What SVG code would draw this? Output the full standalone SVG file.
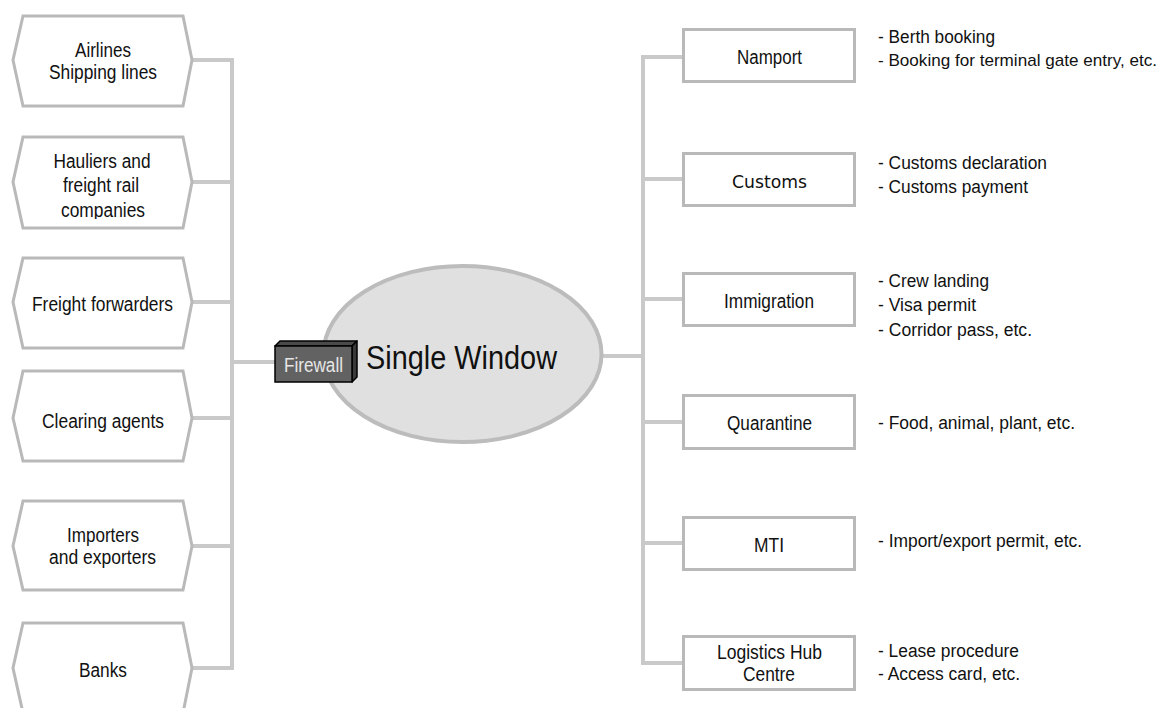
<svg xmlns="http://www.w3.org/2000/svg" width="1165" height="708" viewBox="0 0 1165 708">
  <defs>
    <style>
      .bus { stroke: #c9c9c9; stroke-width: 4; fill: none; }
      .hex { fill: #ffffff; stroke: #b9b9b9; stroke-width: 3; }
      .box { fill: #ffffff; stroke: #b9b9b9; stroke-width: 3; }
      .lbl { font-family: "Liberation Sans", Arial, sans-serif; font-size: 20px; fill: #111111; text-anchor: middle; }
      .note { font-family: "Liberation Sans", Arial, sans-serif; font-size: 18px; fill: #111111; }
      .note.long { font-size: 17px; }
      .alt { font-family: "DejaVu Sans", "Liberation Sans", sans-serif; font-size: 17px; fill: #111111; text-anchor: middle; }
      .hub { font-family: "Liberation Sans", Arial, sans-serif; font-size: 33px; fill: #111111; }
      .fw { font-family: "Liberation Sans", Arial, sans-serif; font-size: 20px; fill: #e6e6e6; }
    </style>
    <clipPath id="clipHauliers">
      <rect x="0" y="130" width="240" height="89"/>
    </clipPath>
  </defs>

  <!-- connectors -->
  <g id="connectors">
    <!-- left bus and stubs -->
    <line class="bus" x1="232" y1="60" x2="232" y2="668"/>
    <line class="bus" x1="192" y1="60" x2="234" y2="60"/>
    <line class="bus" x1="192" y1="182" x2="234" y2="182"/>
    <line class="bus" x1="192" y1="302" x2="234" y2="302"/>
    <line class="bus" x1="192" y1="418" x2="234" y2="418"/>
    <line class="bus" x1="192" y1="546" x2="234" y2="546"/>
    <line class="bus" x1="192" y1="668" x2="234" y2="668"/>
    <line class="bus" x1="232" y1="362" x2="276" y2="362"/>
    <!-- right bus and stubs -->
    <line class="bus" x1="643" y1="57" x2="643" y2="663"/>
    <line class="bus" x1="641" y1="57" x2="683" y2="57"/>
    <line class="bus" x1="641" y1="179" x2="683" y2="179"/>
    <line class="bus" x1="641" y1="299" x2="683" y2="299"/>
    <line class="bus" x1="602" y1="356" x2="645" y2="356"/>
    <line class="bus" x1="641" y1="422" x2="683" y2="422"/>
    <line class="bus" x1="641" y1="543" x2="683" y2="543"/>
    <line class="bus" x1="641" y1="663" x2="683" y2="663"/>
  </g>

  <!-- left-hand parties -->
  <g id="airlines">
    <polygon class="hex" points="23,16 183,16 192,60 183,106 23,106 13,60"/>
    <text class="lbl" x="103" y="57" textLength="56" lengthAdjust="spacingAndGlyphs">Airlines</text>
    <text class="lbl" x="103" y="79" textLength="108" lengthAdjust="spacingAndGlyphs">Shipping lines</text>
  </g>
  <g id="hauliers">
    <polygon class="hex" points="23,137 183,137 192,182 183,228 23,228 13,182"/>
    <g clip-path="url(#clipHauliers)">
      <text class="lbl" x="102" y="168" textLength="97" lengthAdjust="spacingAndGlyphs">Hauliers and</text>
      <text class="lbl" x="101" y="192" textLength="76" lengthAdjust="spacingAndGlyphs">freight rail</text>
      <text class="lbl" x="103" y="217" textLength="84" lengthAdjust="spacingAndGlyphs">companies</text>
    </g>
  </g>
  <g id="freight-forwarders">
    <polygon class="hex" points="23,258 183,258 192,302 183,348 23,348 13,302"/>
    <text class="lbl" x="102.5" y="311" textLength="141" lengthAdjust="spacingAndGlyphs">Freight forwarders</text>
  </g>
  <g id="clearing-agents">
    <polygon class="hex" points="23,371 183,371 192,418 183,461 23,461 13,418"/>
    <text class="lbl" x="103" y="428" textLength="122" lengthAdjust="spacingAndGlyphs">Clearing agents</text>
  </g>
  <g id="importers">
    <polygon class="hex" points="23,501 183,501 192,546 183,590 23,590 13,546"/>
    <text class="lbl" x="103" y="542" textLength="72" lengthAdjust="spacingAndGlyphs">Importers</text>
    <text class="lbl" x="102.5" y="564" textLength="107" lengthAdjust="spacingAndGlyphs">and exporters</text>
  </g>
  <g id="banks">
    <polygon class="hex" points="23,623 183,623 192,668 183,713 23,713 13,668"/>
    <text class="lbl" x="103" y="677" textLength="48" lengthAdjust="spacingAndGlyphs">Banks</text>
  </g>

  <!-- central hub -->
  <g id="single-window">
    <ellipse cx="462.5" cy="354" rx="139" ry="88" fill="#e0e0e0" stroke="#bcbcbc" stroke-width="4"/>
    <text class="hub" x="366" y="369" textLength="191" lengthAdjust="spacingAndGlyphs">Single Window</text>
  </g>

  <g id="firewall">
    <polygon points="275,346 280,341 357,341 352,346" fill="#4a4a4a" stroke="#000000" stroke-width="1.5" stroke-linejoin="round"/>
    <polygon points="352,346 357,341 357,377 352,382" fill="#3a3a3a" stroke="#000000" stroke-width="1.5" stroke-linejoin="round"/>
    <rect x="275" y="346" width="77" height="36" fill="#626262" stroke="#000000" stroke-width="1.5"/>
    <text class="fw" x="284" y="372" textLength="59" lengthAdjust="spacingAndGlyphs">Firewall</text>
  </g>

  <!-- right-hand agencies -->
  <g id="namport">
    <rect class="box" x="683.5" y="29.5" width="171" height="52"/>
    <text class="lbl" x="769.5" y="64" textLength="65" lengthAdjust="spacingAndGlyphs">Namport</text>
    <text class="note" x="878" y="43" textLength="117" lengthAdjust="spacingAndGlyphs">- Berth booking</text>
    <text class="note long" x="878" y="66" textLength="279" lengthAdjust="spacingAndGlyphs">- Booking for terminal gate entry, etc.</text>
  </g>
  <g id="customs">
    <rect class="box" x="683.5" y="153.5" width="171" height="52"/>
    <text class="alt" x="769.5" y="188" textLength="75" lengthAdjust="spacingAndGlyphs">Customs</text>
    <text class="note" x="878" y="169" textLength="169" lengthAdjust="spacingAndGlyphs">- Customs declaration</text>
    <text class="note" x="878" y="193" textLength="150" lengthAdjust="spacingAndGlyphs">- Customs payment</text>
  </g>
  <g id="immigration">
    <rect class="box" x="683.5" y="273.5" width="171" height="52"/>
    <text class="lbl" x="769" y="308" textLength="90" lengthAdjust="spacingAndGlyphs">Immigration</text>
    <text class="note" x="878" y="287" textLength="111" lengthAdjust="spacingAndGlyphs">- Crew landing</text>
    <text class="note" x="878" y="311" textLength="98" lengthAdjust="spacingAndGlyphs">- Visa permit</text>
    <text class="note" x="878" y="336" textLength="154" lengthAdjust="spacingAndGlyphs">- Corridor pass, etc.</text>
  </g>
  <g id="quarantine">
    <rect class="box" x="683.5" y="395.5" width="171" height="53"/>
    <text class="lbl" x="769.5" y="430" textLength="85" lengthAdjust="spacingAndGlyphs">Quarantine</text>
    <text class="note" x="878" y="429" textLength="197" lengthAdjust="spacingAndGlyphs">- Food, animal, plant, etc.</text>
  </g>
  <g id="mti">
    <rect class="box" x="683.5" y="517.5" width="171" height="52"/>
    <text class="lbl" x="769" y="552" textLength="30" lengthAdjust="spacingAndGlyphs">MTI</text>
    <text class="note" x="878" y="547" textLength="204" lengthAdjust="spacingAndGlyphs">- Import/export permit, etc.</text>
  </g>
  <g id="logistics-hub">
    <rect class="box" x="683.5" y="636.5" width="171" height="53"/>
    <text class="lbl" x="769.5" y="659" textLength="105" lengthAdjust="spacingAndGlyphs">Logistics Hub</text>
    <text class="lbl" x="769" y="681" textLength="52" lengthAdjust="spacingAndGlyphs">Centre</text>
    <text class="note" x="878" y="657" textLength="141" lengthAdjust="spacingAndGlyphs">- Lease procedure</text>
    <text class="note" x="878" y="680" textLength="142" lengthAdjust="spacingAndGlyphs">- Access card, etc.</text>
  </g>
</svg>
